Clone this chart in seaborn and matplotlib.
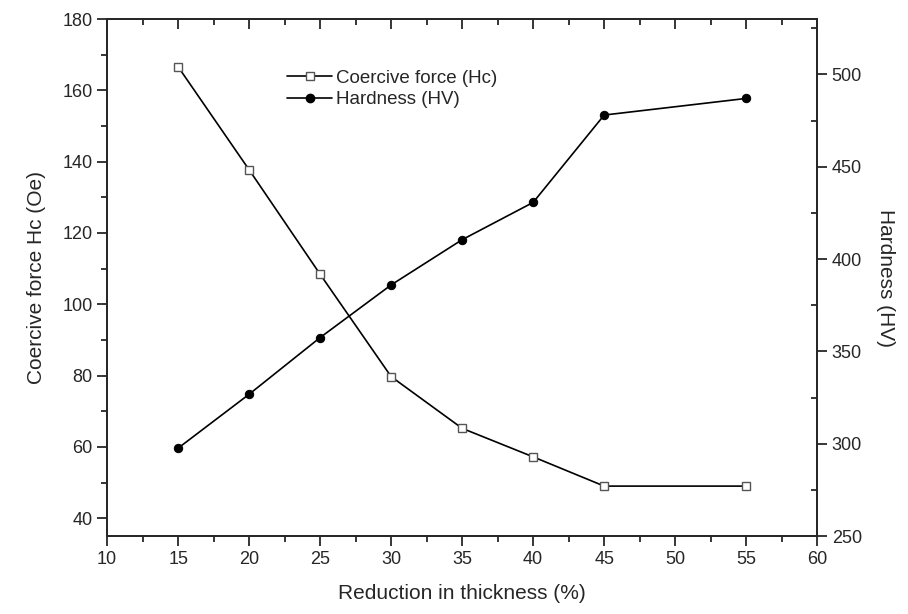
import numpy as np
import pandas as pd
import matplotlib
matplotlib.use("Agg")
import matplotlib.pyplot as plt
import seaborn as sns
from matplotlib.ticker import MultipleLocator
from matplotlib.lines import Line2D

# data
reduction = [15, 20, 25, 30, 35, 40, 45, 55]
coercive_force = [166.6, 137.7, 108.4, 79.7, 65.2, 57.2, 49.0, 49.0]
hardness = [297.6, 326.8, 357.5, 386.0, 410.5, 430.7, 478.0, 487.0]

df = pd.DataFrame({"reduction": reduction, "hc": coercive_force, "hv": hardness})

sns.set_theme(style="ticks")
plt.rcParams['font.family'] = ['Liberation Sans', 'DejaVu Sans']
plt.rcParams['axes.linewidth'] = 1.3

fig = plt.figure(figsize=(9.08, 6.14), dpi=100)
ax = fig.add_axes([0.118, 0.127, 0.782, 0.842])
ax2 = ax.twinx()

sns.lineplot(data=df, x="reduction", y="hc", ax=ax, color="black", lw=1.2,
             marker="s", markersize=6, markerfacecolor="white",
             markeredgecolor="#555555", markeredgewidth=1.0)
sns.lineplot(data=df, x="reduction", y="hv", ax=ax2, color="black", lw=1.2,
             marker="o", markersize=6, markerfacecolor="black",
             markeredgecolor="black")

ax.set_xlim(10, 60)
ax.set_ylim(35, 180)
ax2.set_ylim(250, 530)

ax.xaxis.set_major_locator(MultipleLocator(5))
ax.xaxis.set_minor_locator(MultipleLocator(2.5))
ax.yaxis.set_major_locator(MultipleLocator(20))
ax.yaxis.set_minor_locator(MultipleLocator(10))
ax2.yaxis.set_major_locator(MultipleLocator(50))
ax2.yaxis.set_minor_locator(MultipleLocator(25))

ax.tick_params(axis="x", which="both", direction="out", top=True, labelsize=13)
ax.tick_params(axis="y", which="both", direction="out", labelsize=13)
ax.tick_params(which="major", length=7, width=1.3)
ax.tick_params(which="minor", length=4, width=1.3)
ax2.tick_params(axis="y", which="major", direction="out", length=7, width=1.3, labelsize=13)
ax2.tick_params(axis="y", which="minor", direction="in", length=4, width=1.3)

# top ticks point inward
for t in ax.xaxis.get_major_ticks() + ax.xaxis.get_minor_ticks():
    t.tick2line.set_marker(matplotlib.markers.TICKDOWN)

ax.set_xlabel("Reduction in thickness (%)", fontsize=15, labelpad=12)
ax.set_ylabel("Coercive force Hc (Oe)", fontsize=15, labelpad=12)
ax2.set_ylabel("Hardness (HV)", fontsize=15, rotation=270, labelpad=24)

handles = [
    Line2D([], [], color="black", lw=1.2, marker="s", markersize=6,
           markerfacecolor="white", markeredgecolor="#555555"),
    Line2D([], [], color="black", lw=1.2, marker="o", markersize=6,
           markerfacecolor="black"),
]
ax.legend(handles, ["Coercive force (Hc)", "Hardness (HV)"], loc="upper left",
          bbox_to_anchor=(0.23, 0.935), frameon=False, fontsize=13.5,
          handlelength=2.4, handletextpad=0.2, labelspacing=0.25)
if ax2.get_legend():
    ax2.get_legend().remove()

fig.savefig("out.png", dpi=100)
